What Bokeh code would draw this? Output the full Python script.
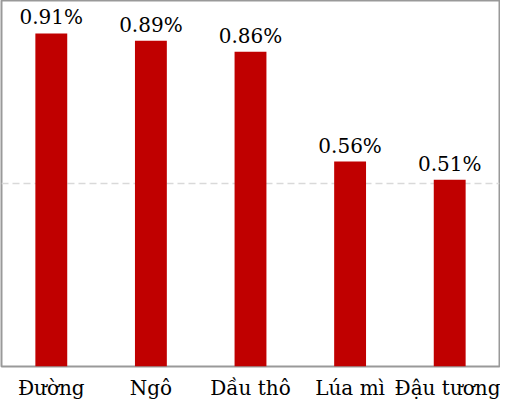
from bokeh.plotting import figure
from bokeh.models import ColumnDataSource, Range1d, FixedTicker
from bokeh.core.properties import value
from bokeh.embed import file_html
from bokeh.resources import INLINE

categories = ["Đường", "Ngô", "Dầu thô", "Lúa mì", "Đậu tương"]
values = [0.91, 0.89, 0.86, 0.56, 0.51]
value_labels = ["0.91%", "0.89%", "0.86%", "0.56%", "0.51%"]

FONT = "DejaVu Serif"

src = ColumnDataSource(dict(cat=categories, val=values, lab=value_labels))

p = figure(x_range=categories, y_range=Range1d(0, 1), width=500, height=402,
           output_backend="svg", toolbar_location=None,
           min_border_left=1, min_border_right=1, min_border_top=0, min_border_bottom=0)
p.background_fill_color = "white"
p.border_fill_color = "white"
p.outline_line_color = "#999999"
p.outline_line_width = 2

p.vbar(x="cat", top="val", width=0.32, source=src, fill_color="#C00000", line_color=None)
p.text(x="cat", y="val", text="lab", source=src, y_offset=-16,
       text_align="center", text_baseline="alphabetic",
       text_font=value(FONT), text_font_size="20px", text_color="black")

p.yaxis.visible = False
p.xgrid.grid_line_color = None
p.ygrid[0].ticker = FixedTicker(ticks=[0.5])
p.ygrid.grid_line_color = "#d9d9d9"
p.ygrid.grid_line_dash = "7 4"
p.ygrid.grid_line_width = 1.5

ax = p.xaxis[0]
ax.axis_line_color = None
ax.major_tick_line_color = None
ax.minor_tick_line_color = None
ax.major_tick_out = 0
ax.major_tick_in = 0
ax.major_label_standoff = 9
ax.major_label_text_baseline = "alphabetic"
ax.major_label_text_font = FONT
ax.major_label_text_font_size = "20px"
ax.major_label_text_color = "black"

open("out.html", "w").write(file_html(p, INLINE))
